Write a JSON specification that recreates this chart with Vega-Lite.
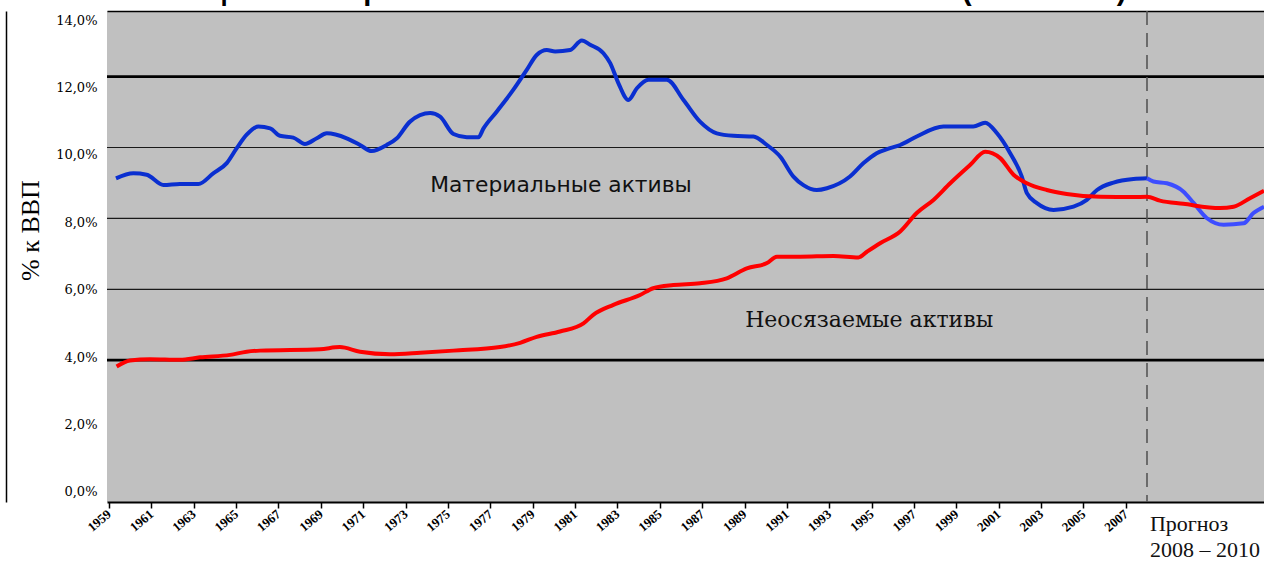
{
  "$schema": "https://vega.github.io/schema/vega-lite/v6.json",
  "width": 1157,
  "height": 491,
  "autosize": {"type": "none"},
  "padding": {"left": 107, "top": 11, "right": 0, "bottom": 63},
  "background": "white",
  "config": {
    "view": {"fill": "#c0c0c0", "stroke": null},
    "axisX": {"labelAngle": -40, "labelAlign": "right", "labelBaseline": "middle", "labelFont": "Liberation Serif", "labelFontSize": 13, "labelFontWeight": "bold", "labelColor": "black", "labelPadding": 4, "tickColor": "black", "tickSize": 6, "tickWidth": 1.5, "domainColor": "black", "domainWidth": 2, "grid": false, "labelOverlap": false, "labelFlush": false}
  },
  "title": {
    "text": "Инвестиции в материальные и неосязаемые активы в США (в % к ВВП)",
    "font": "Liberation Sans",
    "fontWeight": "bold",
    "fontSize": 29,
    "color": "black",
    "anchor": "middle",
    "baseline": "alphabetic",
    "offset": -19,
    "dx": -78
  },
  "datasets": {
    "series": [
      {"year": 1959.33, "value": 9.13, "series": "Материальные активы"},
      {"year": 1960.15, "value": 9.27, "series": "Материальные активы"},
      {"year": 1960.78, "value": 9.23, "series": "Материальные активы"},
      {"year": 1961.57, "value": 8.94, "series": "Материальные активы"},
      {"year": 1962.35, "value": 8.97, "series": "Материальные активы"},
      {"year": 1963.22, "value": 8.97, "series": "Материальные активы"},
      {"year": 1963.92, "value": 9.27, "series": "Материальные активы"},
      {"year": 1964.56, "value": 9.56, "series": "Материальные активы"},
      {"year": 1965.03, "value": 9.98, "series": "Материальные активы"},
      {"year": 1965.5, "value": 10.36, "series": "Материальные активы"},
      {"year": 1966.05, "value": 10.59, "series": "Материальные активы"},
      {"year": 1966.61, "value": 10.54, "series": "Материальные активы"},
      {"year": 1967.07, "value": 10.33, "series": "Материальные активы"},
      {"year": 1967.7, "value": 10.28, "series": "Материальные активы"},
      {"year": 1968.25, "value": 10.1, "series": "Материальные активы"},
      {"year": 1968.81, "value": 10.26, "series": "Материальные активы"},
      {"year": 1969.28, "value": 10.4, "series": "Материальные активы"},
      {"year": 1970.22, "value": 10.26, "series": "Материальные активы"},
      {"year": 1970.85, "value": 10.07, "series": "Материальные активы"},
      {"year": 1971.4, "value": 9.9, "series": "Материальные активы"},
      {"year": 1972.11, "value": 10.07, "series": "Материальные активы"},
      {"year": 1972.59, "value": 10.26, "series": "Материальные активы"},
      {"year": 1973.21, "value": 10.73, "series": "Материальные активы"},
      {"year": 1974.16, "value": 10.97, "series": "Материальные активы"},
      {"year": 1974.63, "value": 10.87, "series": "Материальные активы"},
      {"year": 1975.26, "value": 10.38, "series": "Материальные активы"},
      {"year": 1975.89, "value": 10.29, "series": "Материальные активы"},
      {"year": 1976.44, "value": 10.29, "series": "Материальные активы"},
      {"year": 1976.68, "value": 10.54, "series": "Материальные активы"},
      {"year": 1977.3, "value": 11.01, "series": "Материальные активы"},
      {"year": 1978.09, "value": 11.63, "series": "Материальные активы"},
      {"year": 1978.72, "value": 12.19, "series": "Материальные активы"},
      {"year": 1979.19, "value": 12.61, "series": "Материальные активы"},
      {"year": 1979.67, "value": 12.75, "series": "Материальные активы"},
      {"year": 1980.06, "value": 12.71, "series": "Материальные активы"},
      {"year": 1980.77, "value": 12.75, "series": "Материальные активы"},
      {"year": 1981.32, "value": 13.02, "series": "Материальные активы"},
      {"year": 1981.71, "value": 12.9, "series": "Материальные активы"},
      {"year": 1982.34, "value": 12.66, "series": "Материальные активы"},
      {"year": 1982.66, "value": 12.38, "series": "Материальные активы"},
      {"year": 1983.05, "value": 11.81, "series": "Материальные активы"},
      {"year": 1983.52, "value": 11.34, "series": "Материальные активы"},
      {"year": 1983.92, "value": 11.67, "series": "Материальные активы"},
      {"year": 1984.47, "value": 11.91, "series": "Материальные активы"},
      {"year": 1985.33, "value": 11.91, "series": "Материальные активы"},
      {"year": 1986.12, "value": 11.34, "series": "Материальные активы"},
      {"year": 1986.9, "value": 10.73, "series": "Материальные активы"},
      {"year": 1987.69, "value": 10.4, "series": "Материальные активы"},
      {"year": 1988.48, "value": 10.33, "series": "Материальные активы"},
      {"year": 1989.42, "value": 10.31, "series": "Материальные активы"},
      {"year": 1990.06, "value": 10.07, "series": "Материальные активы"},
      {"year": 1990.69, "value": 9.74, "series": "Материальные активы"},
      {"year": 1991.31, "value": 9.18, "series": "Материальные активы"},
      {"year": 1991.78, "value": 8.94, "series": "Материальные активы"},
      {"year": 1992.41, "value": 8.8, "series": "Материальные активы"},
      {"year": 1992.89, "value": 8.85, "series": "Материальные активы"},
      {"year": 1993.98, "value": 9.18, "series": "Материальные активы"},
      {"year": 1994.62, "value": 9.56, "series": "Материальные активы"},
      {"year": 1995.24, "value": 9.84, "series": "Материальные активы"},
      {"year": 1995.87, "value": 9.98, "series": "Материальные активы"},
      {"year": 1996.35, "value": 10.07, "series": "Материальные активы"},
      {"year": 1997.13, "value": 10.31, "series": "Материальные активы"},
      {"year": 1998.39, "value": 10.59, "series": "Материальные активы"},
      {"year": 1999.8, "value": 10.59, "series": "Материальные активы"},
      {"year": 2000.36, "value": 10.7, "series": "Материальные активы"},
      {"year": 2000.92, "value": 10.4, "series": "Материальные активы"},
      {"year": 2001.54, "value": 9.84, "series": "Материальные активы"},
      {"year": 2002.09, "value": 9.18, "series": "Материальные активы"},
      {"year": 2002.33, "value": 8.71, "series": "Материальные активы"},
      {"year": 2002.8, "value": 8.43, "series": "Материальные активы"},
      {"year": 2003.59, "value": 8.24, "series": "Материальные активы"},
      {"year": 2004.53, "value": 8.33, "series": "Материальные активы"},
      {"year": 2005.16, "value": 8.52, "series": "Материальные активы"},
      {"year": 2005.64, "value": 8.8, "series": "Материальные активы"},
      {"year": 2006.42, "value": 9.01, "series": "Материальные активы"},
      {"year": 2007.36, "value": 9.11, "series": "Материальные активы"},
      {"year": 2008.0, "value": 9.13, "series": "Материальные активы"},
      {"year": 2008.0, "value": 9.13, "series": "Материальные активы (прогноз)"},
      {"year": 2008.11, "value": 9.04, "series": "Материальные активы (прогноз)"},
      {"year": 2008.34, "value": 8.99, "series": "Материальные активы (прогноз)"},
      {"year": 2008.62, "value": 8.76, "series": "Материальные активы (прогноз)"},
      {"year": 2008.8, "value": 8.43, "series": "Материальные активы (прогноз)"},
      {"year": 2009.02, "value": 8.01, "series": "Материальные активы (прогноз)"},
      {"year": 2009.31, "value": 7.82, "series": "Материальные активы (прогноз)"},
      {"year": 2009.65, "value": 7.86, "series": "Материальные активы (прогноз)"},
      {"year": 2009.82, "value": 8.15, "series": "Материальные активы (прогноз)"},
      {"year": 2010.0, "value": 8.33, "series": "Материальные активы (прогноз)"},
      {"year": 1959.36, "value": 3.82, "series": "Неосязаемые активы"},
      {"year": 1959.99, "value": 3.99, "series": "Неосязаемые активы"},
      {"year": 1960.93, "value": 4.03, "series": "Неосязаемые активы"},
      {"year": 1962.35, "value": 4.01, "series": "Неосязаемые активы"},
      {"year": 1963.3, "value": 4.08, "series": "Неосязаемые активы"},
      {"year": 1964.72, "value": 4.15, "series": "Неосязаемые активы"},
      {"year": 1965.5, "value": 4.24, "series": "Неосязаемые активы"},
      {"year": 1966.13, "value": 4.27, "series": "Неосязаемые активы"},
      {"year": 1968.96, "value": 4.31, "series": "Неосязаемые активы"},
      {"year": 1969.9, "value": 4.37, "series": "Неосязаемые активы"},
      {"year": 1970.85, "value": 4.24, "series": "Неосязаемые активы"},
      {"year": 1972.27, "value": 4.17, "series": "Неосязаемые активы"},
      {"year": 1973.69, "value": 4.21, "series": "Неосязаемые активы"},
      {"year": 1975.26, "value": 4.27, "series": "Неосязаемые активы"},
      {"year": 1977.46, "value": 4.37, "series": "Неосязаемые активы"},
      {"year": 1978.41, "value": 4.49, "series": "Неосязаемые активы"},
      {"year": 1979.19, "value": 4.66, "series": "Неосязаемые активы"},
      {"year": 1980.29, "value": 4.81, "series": "Неосязаемые активы"},
      {"year": 1981.4, "value": 5.04, "series": "Неосязаемые активы"},
      {"year": 1981.86, "value": 5.28, "series": "Неосязаемые активы"},
      {"year": 1982.81, "value": 5.56, "series": "Неосязаемые активы"},
      {"year": 1984.07, "value": 5.84, "series": "Неосязаемые активы"},
      {"year": 1984.69, "value": 6.03, "series": "Неосязаемые активы"},
      {"year": 1985.64, "value": 6.12, "series": "Неосязаемые активы"},
      {"year": 1986.9, "value": 6.17, "series": "Неосязаемые активы"},
      {"year": 1988.16, "value": 6.31, "series": "Неосязаемые активы"},
      {"year": 1989.11, "value": 6.59, "series": "Неосязаемые активы"},
      {"year": 1990.06, "value": 6.74, "series": "Неосязаемые активы"},
      {"year": 1990.53, "value": 6.92, "series": "Неосязаемые активы"},
      {"year": 1991.63, "value": 6.92, "series": "Неосязаемые активы"},
      {"year": 1993.2, "value": 6.94, "series": "Неосязаемые активы"},
      {"year": 1994.38, "value": 6.9, "series": "Неосязаемые активы"},
      {"year": 1994.78, "value": 7.06, "series": "Неосязаемые активы"},
      {"year": 1995.4, "value": 7.3, "series": "Неосязаемые активы"},
      {"year": 1996.35, "value": 7.63, "series": "Неосязаемые активы"},
      {"year": 1997.13, "value": 8.15, "series": "Неосязаемые активы"},
      {"year": 1997.92, "value": 8.52, "series": "Неосязаемые активы"},
      {"year": 1998.71, "value": 8.99, "series": "Неосязаемые активы"},
      {"year": 1999.66, "value": 9.51, "series": "Неосязаемые активы"},
      {"year": 2000.36, "value": 9.88, "series": "Неосязаемые активы"},
      {"year": 2001.07, "value": 9.7, "series": "Неосязаемые активы"},
      {"year": 2001.7, "value": 9.23, "series": "Неосязаемые активы"},
      {"year": 2002.33, "value": 8.99, "series": "Неосязаемые активы"},
      {"year": 2003.27, "value": 8.8, "series": "Неосязаемые активы"},
      {"year": 2004.21, "value": 8.69, "series": "Неосязаемые активы"},
      {"year": 2005.79, "value": 8.61, "series": "Неосязаемые активы"},
      {"year": 2007.36, "value": 8.6, "series": "Неосязаемые активы"},
      {"year": 2008.0, "value": 8.61, "series": "Неосязаемые активы"},
      {"year": 2008.22, "value": 8.5, "series": "Неосязаемые активы"},
      {"year": 2008.62, "value": 8.41, "series": "Неосязаемые активы"},
      {"year": 2009.25, "value": 8.29, "series": "Неосязаемые активы"},
      {"year": 2009.48, "value": 8.33, "series": "Неосязаемые активы"},
      {"year": 2009.76, "value": 8.57, "series": "Неосязаемые активы"},
      {"year": 2010.0, "value": 8.78, "series": "Неосязаемые активы"}
    ],
    "gridThick": [{"value": 12}, {"value": 4}],
    "gridThin": [{"value": 10}, {"value": 8}, {"value": 6}],
    "forecast": [{"year": 2008}],
    "labelSans": [{"year": 1974.16, "value": 8.94, "label": "Материальные активы"}],
    "labelSerif": [{"year": 1989.03, "value": 5.14, "label": "Неосязаемые активы"}],
    "labelForecast": [{"year": 2008.05, "value": -0.33, "label": "Прогноз\n2008 – 2010"}],
    "yticks": [{"v": 0}, {"v": 2}, {"v": 4}, {"v": 6}, {"v": 8}, {"v": 10}, {"v": 12}, {"v": 14}]
  },
  "layer": [
    {
      "layer": [
        {
          "data": {"name": "gridThin"},
          "mark": {"type": "rule", "color": "#1a1a1a", "strokeWidth": 1.2},
          "encoding": {
            "y": {"field": "value", "type": "quantitative", "scale": {"domain": [0, 13.85], "nice": false, "zero": false},
              "axis": {"orient": "left", "offset": 101, "labels": false, "ticks": false, "grid": false, "domain": true, "domainColor": "black", "domainWidth": 1.5, "title": null}}
          }
        },
        {
          "data": {"name": "gridThick"},
          "mark": {"type": "rule", "color": "black", "strokeWidth": 2.8},
          "encoding": {
            "y": {"field": "value", "type": "quantitative", "scale": {"domain": [0, 13.85], "nice": false, "zero": false},
              "axis": {"orient": "left", "offset": 101, "labels": false, "ticks": false, "grid": false, "domain": true, "domainColor": "black", "domainWidth": 1.5, "title": null}}
          }
        },
        {
          "data": {"name": "forecast"},
          "mark": {"type": "rule", "color": "#555555", "strokeWidth": 1.6, "strokeDash": [14, 8]},
          "encoding": {
            "x": {"field": "year", "type": "quantitative",
              "scale": {"domain": [1958.906, 2008, 2010], "range": [0, 1040, 1157], "nice": false, "zero": false},
              "axis": {"values": [1959, 1960, 1961, 1962, 1963, 1964, 1965, 1966, 1967, 1968, 1969, 1970, 1971, 1972, 1973, 1974, 1975, 1976, 1977, 1978, 1979, 1980, 1981, 1982, 1983, 1984, 1985, 1986, 1987, 1988, 1989, 1990, 1991, 1992, 1993, 1994, 1995, 1996, 1997, 1998, 1999, 2000, 2001, 2002, 2003, 2004, 2005, 2006, 2007],
                "format": "d", "labelExpr": "datum.value % 2 == 1 ? datum.label : ''", "labelAngle": -40, "title": null}}
          }
        },
        {
          "data": {"name": "series"},
          "mark": {"type": "line", "strokeWidth": 4, "interpolate": "monotone"},
          "encoding": {
            "x": {"field": "year", "type": "quantitative",
              "scale": {"domain": [1958.906, 2008, 2010], "range": [0, 1040, 1157], "nice": false, "zero": false},
              "axis": {"values": [1959, 1960, 1961, 1962, 1963, 1964, 1965, 1966, 1967, 1968, 1969, 1970, 1971, 1972, 1973, 1974, 1975, 1976, 1977, 1978, 1979, 1980, 1981, 1982, 1983, 1984, 1985, 1986, 1987, 1988, 1989, 1990, 1991, 1992, 1993, 1994, 1995, 1996, 1997, 1998, 1999, 2000, 2001, 2002, 2003, 2004, 2005, 2006, 2007],
                "format": "d", "labelExpr": "datum.value % 2 == 1 ? datum.label : ''", "labelAngle": -40, "title": null}},
            "y": {"field": "value", "type": "quantitative", "scale": {"domain": [0, 13.85], "nice": false, "zero": false},
              "axis": {"orient": "left", "offset": 101, "labels": false, "ticks": false, "grid": false, "domain": true, "domainColor": "black", "domainWidth": 1.5, "title": null}},
            "color": {"field": "series", "type": "nominal", "legend": null,
              "scale": {"domain": ["Материальные активы", "Материальные активы (прогноз)", "Неосязаемые активы"], "range": ["#0a2fd0", "#3d4dff", "#ff0000"]}}
          }
        },
        {
          "data": {"name": "labelSans"},
          "mark": {"type": "text", "font": "DejaVu Sans", "fontSize": 21.8, "align": "left", "baseline": "middle", "color": "#111111"},
          "encoding": {
            "x": {"field": "year", "type": "quantitative"},
            "y": {"field": "value", "type": "quantitative"},
            "text": {"field": "label"}
          }
        },
        {
          "data": {"name": "labelSerif"},
          "mark": {"type": "text", "font": "DejaVu Serif", "fontSize": 22, "align": "left", "baseline": "middle", "color": "#111111"},
          "encoding": {
            "x": {"field": "year", "type": "quantitative"},
            "y": {"field": "value", "type": "quantitative"},
            "text": {"field": "label"}
          }
        },
        {
          "data": {"name": "labelForecast"},
          "mark": {"type": "text", "font": "Liberation Serif", "fontSize": 22, "align": "left", "baseline": "top", "lineBreak": "\n", "lineHeight": 26, "color": "#111111"},
          "encoding": {
            "x": {"field": "year", "type": "quantitative"},
            "y": {"field": "value", "type": "quantitative"},
            "text": {"field": "label"}
          }
        }
      ]
    },
    {
      "data": {"name": "yticks"},
      "mark": {"type": "point", "opacity": 0},
      "encoding": {
        "x": {"field": "v", "type": "quantitative", "scale": {"domain": [0, 14]},
          "axis": {"orient": "top", "labels": false, "ticks": false, "grid": false, "domain": true, "domainColor": "black", "domainWidth": 1.5, "title": null, "minExtent": 0, "maxExtent": 0}},
        "y": {"field": "v", "type": "quantitative", "scale": {"domain": [-0.297, 14.27], "nice": false, "zero": false},
          "axis": {"orient": "left", "values": [0, 2, 4, 6, 8, 10, 12, 14], "labelExpr": "replace(format(datum.value, '.1f'), '.', ',') + '%'",
            "labelFont": "DejaVu Serif", "labelFontSize": 13, "labelColor": "black", "labelPadding": 10, "ticks": false, "domain": false, "grid": false,
            "title": "% к ВВП", "titleFont": "Liberation Serif", "titleFontSize": 26, "titleFontWeight": "normal", "titleColor": "black", "titleAngle": -90, "titleX": -77, "titleY": 219, "titleAlign": "center", "titleBaseline": "middle"}}
      }
    }
  ],
  "resolve": {"scale": {"x": "independent", "y": "independent"}, "axis": {"x": "independent", "y": "independent"}}
}
